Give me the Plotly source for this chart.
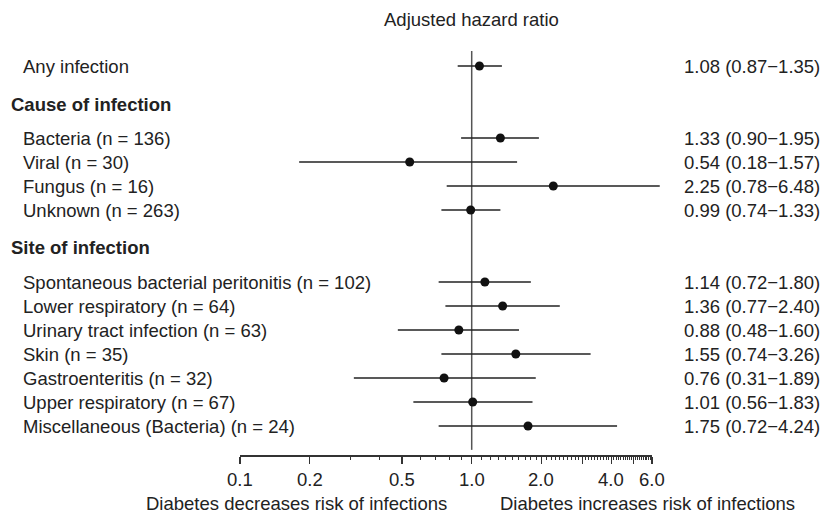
import math
import plotly.graph_objects as go

# ---------------- data ----------------
title_text = "Adjusted hazard ratio"
overall_label = ["Any infection"]
overall_hr = [1.08]
overall_lo = [0.87]
overall_hi = [1.35]

cause_header = "Cause of infection"
cause_labels = ["Bacteria (n = 136)", "Viral (n = 30)", "Fungus (n = 16)", "Unknown (n = 263)"]
cause_hr = [1.33, 0.54, 2.25, 0.99]
cause_lo = [0.90, 0.18, 0.78, 0.74]
cause_hi = [1.95, 1.57, 6.48, 1.33]

site_header = "Site of infection"
site_labels = ["Spontaneous bacterial peritonitis (n = 102)", "Lower respiratory (n = 64)",
               "Urinary tract infection (n = 63)", "Skin (n = 35)", "Gastroenteritis (n = 32)",
               "Upper respiratory (n = 67)", "Miscellaneous (Bacteria) (n = 24)"]
site_hr = [1.14, 1.36, 0.88, 1.55, 0.76, 1.01, 1.75]
site_lo = [0.72, 0.77, 0.48, 0.74, 0.31, 0.56, 0.72]
site_hi = [1.80, 2.40, 1.60, 3.26, 1.89, 1.83, 4.24]

major_ticks = [0.1, 0.2, 0.5, 1.0, 2.0, 3.0, 4.0, 5.0, 6.0]
major_tick_text = ["0.1", "0.2", "0.5", "1.0", "2.0", "", "4.0", "", "6.0"]
minor_ticks = [0.3, 0.4, 0.6, 0.7, 0.8, 0.9,
               1.1, 1.2, 1.3, 1.4, 1.5, 1.6, 1.7, 1.8, 1.9,
               2.1, 2.2, 2.3, 2.4, 2.5, 2.6, 2.7, 2.8, 2.9,
               3.1, 3.2, 3.3, 3.4, 3.5, 3.6, 3.7, 3.8, 3.9,
               4.1, 4.2, 4.3, 4.4, 4.5, 4.6, 4.7, 4.8, 4.9,
               5.1, 5.2, 5.3, 5.4, 5.5, 5.6, 5.7, 5.8, 5.9]
left_note = "Diabetes decreases risk of infections"
right_note = "Diabetes increases risk of infections"
ref_value = 1.0

# ---------------- layout geometry ----------------
W, H = 823, 514
X_AT_01 = 240.0          # pixel of 0.1
PX_PER_DEC = 231.7       # pixels per decade
ROW0 = 66.0              # pixel of first row
ROW_H = 24.0
AXIS_Y = 455.0
TICKLABEL_Y = 479.0
FONT = "Liberation Sans, Arial, sans-serif"
FS = 18.5
TXT = "#222222"

rows_overall = [0]
rows_cause = [3 + i for i in range(len(cause_labels))]
rows_site = [rows_cause[-1] + 3 + i for i in range(len(site_labels))]
header_rows = [rows_cause[0] - 1.38, rows_site[0] - 1.42]

all_labels = overall_label + cause_labels + site_labels
all_hr = overall_hr + cause_hr + site_hr
all_lo = overall_lo + cause_lo + site_lo
all_hi = overall_hi + cause_hi + site_hi
all_rows = rows_overall + rows_cause + rows_site

fig = go.Figure()

fig.add_trace(go.Scatter(
    x=[ref_value, ref_value],
    y=[(51 - ROW0) / ROW_H, (AXIS_Y - ROW0) / ROW_H],
    mode="lines", line=dict(color="#555555", width=1.5),
    hoverinfo="skip", showlegend=False))

cx, cy = [], []
for lo, hi, r in zip(all_lo, all_hi, all_rows):
    cx += [lo, hi, None]
    cy += [r, r, None]
fig.add_trace(go.Scatter(x=cx, y=cy, mode="lines",
                         line=dict(color="#222222", width=1.5),
                         hoverinfo="skip", showlegend=False))

fig.add_trace(go.Scatter(x=all_hr, y=all_rows, mode="markers",
                         marker=dict(color="#111111", size=9),
                         showlegend=False))

fig.add_trace(go.Scatter(x=[1], y=[0.5], xaxis="x2", yaxis="y2", mode="markers",
                         marker=dict(opacity=0), hoverinfo="skip", showlegend=False))

annotations = []
def ann(text, x, y, xanchor="left", yref="y", bold=False, xref="paper"):
    annotations.append(dict(
        text=("<b>%s</b>" % text) if bold else text,
        x=x, y=y, xref=xref, yref=yref, xanchor=xanchor, yanchor="middle",
        showarrow=False, font=dict(family=FONT, size=FS, color=TXT)))

for lab, r in zip(all_labels, all_rows):
    ann(lab, 21 / W, r)
for hr, lo, hi, r in zip(all_hr, all_lo, all_hi, all_rows):
    ann("%.2f (%.2f\u2212%.2f)" % (hr, lo, hi), 682 / W, r)
ann(cause_header, 9 / W, header_rows[0], bold=True)
ann(site_header, 9 / W, header_rows[1], bold=True)
ann(title_text, 471 / W, 1 - 20 / H, xanchor="center", yref="paper")
ann(left_note, 296 / W, 1 - 503 / H, xanchor="center", yref="paper")
ann(right_note, 647 / W, 1 - 503 / H, xanchor="center", yref="paper")
# tick labels (log axis annotations take log10 positions)
for v, t in zip(major_ticks, major_tick_text):
    if t:
        ann(t, math.log10(v), 1 - TICKLABEL_Y / H, xanchor="center", yref="paper", xref="x2")

def px_to_log(px):
    return -1 + (px - X_AT_01) / PX_PER_DEC

axis_frac = (H - AXIS_Y) / H

fig.update_layout(
    width=W, height=H,
    margin=dict(l=0, r=0, t=0, b=0, autoexpand=False),
    paper_bgcolor="white", plot_bgcolor="white",
    font=dict(family=FONT, size=FS, color=TXT),
    annotations=annotations,
    xaxis=dict(type="log", domain=[0, 1], range=[px_to_log(0), px_to_log(W)],
               visible=False, fixedrange=True),
    yaxis=dict(domain=[0, 1], range=[(H - ROW0) / ROW_H, -ROW0 / ROW_H],
               visible=False, fixedrange=True),
    xaxis2=dict(type="log", domain=[X_AT_01 / W, (X_AT_01 + PX_PER_DEC * math.log10(60)) / W],
                range=[-1, math.log10(6)], anchor="y2", automargin=False,
                showline=True, linecolor="#333333", linewidth=1.5,
                ticks="outside", ticklen=7, tickwidth=1.3, tickcolor="#333333",
                tickmode="array", tickvals=major_ticks, showticklabels=False,
                minor=dict(tickmode="array", tickvals=minor_ticks, ticks="outside",
                           ticklen=3.5, tickwidth=1, tickcolor="#333333", showgrid=False),
                showgrid=False, zeroline=False, fixedrange=True),
    yaxis2=dict(domain=[axis_frac, axis_frac + 0.01], anchor="x2", range=[0, 1],
                visible=False, fixedrange=True),
)

fig.write_html("out.html", config={"displayModeBar": False, "staticPlot": True},
               post_script="document.body.style.margin='0';document.body.style.overflow='hidden';")
